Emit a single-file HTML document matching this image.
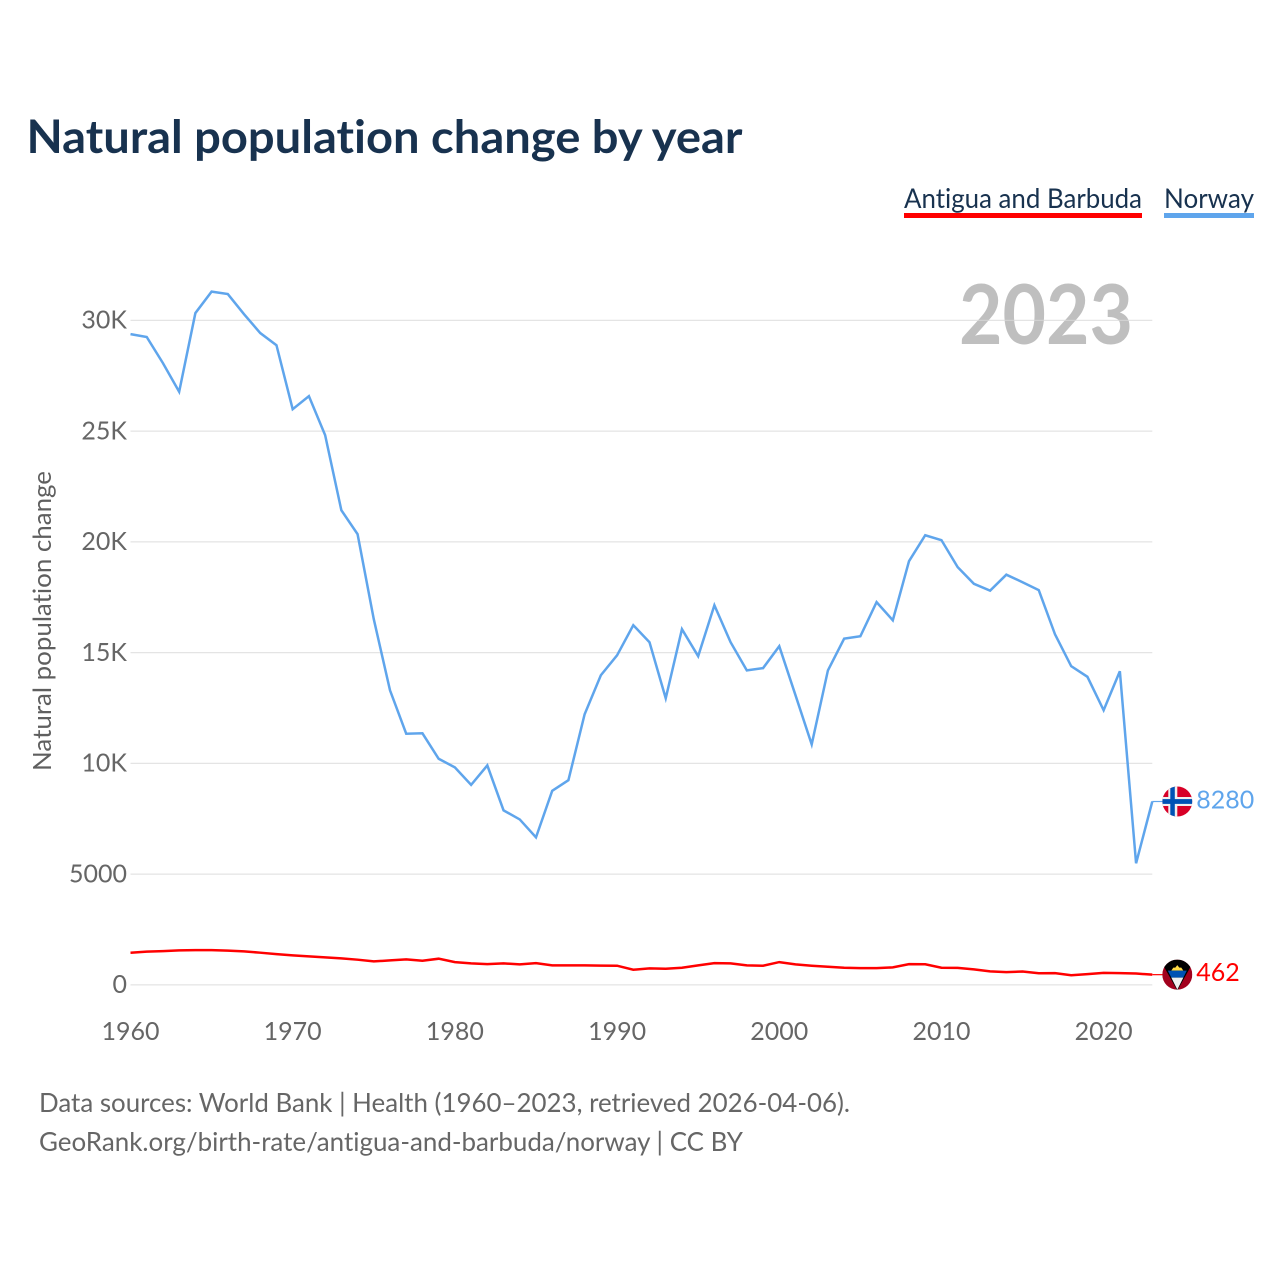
<!DOCTYPE html>
<html lang="en">
<head>
<meta charset="utf-8">
<title>Natural population change by year</title>
<style>
html,body{margin:0;padding:0;background:#fff;width:1280px;height:1280px;overflow:hidden}
svg{display:block}
text{font-family:"Lato","Liberation Sans",sans-serif;font-variant-ligatures:none;font-feature-settings:"liga" 0,"clig" 0,"dlig" 0}
</style>
</head>
<body>
<svg id="chart" xmlns="http://www.w3.org/2000/svg" width="1280" height="1280" viewBox="0 0 1280 1280">
  <defs>
    <clipPath id="flag-clip"><circle cx="0" cy="0" r="15"/></clipPath>
  </defs>
  <rect width="1280" height="1280" fill="#fff"/>
  <text x="26.5" y="153" font-size="46" font-weight="700" fill="#18324f" textLength="716" lengthAdjust="spacingAndGlyphs">Natural population change by year</text>
  <g>
    <text x="904" y="208" font-size="27" fill="#18324f" textLength="238" lengthAdjust="spacingAndGlyphs">Antigua and Barbuda</text>
    <rect x="904" y="213" width="238" height="5" fill="#ff0000"/>
  </g>
  <g>
    <text x="1164" y="208" font-size="27" fill="#18324f" textLength="90" lengthAdjust="spacingAndGlyphs">Norway</text>
    <rect x="1164" y="213" width="90" height="5" fill="#5fa5ec"/>
  </g>
  <text x="959" y="344" font-size="82" font-weight="700" fill="#bfbfbf" textLength="174" lengthAdjust="spacingAndGlyphs">2023</text>
  <g id="grid"></g>
  <g id="y-axis"></g>
  <g id="x-axis"></g>
  <text transform="translate(51,771) rotate(-90)" x="0" y="0" font-size="25" fill="#5f5f5f" textLength="300" lengthAdjust="spacingAndGlyphs">Natural population change</text>
  <g id="series"></g>

  <g id="norway-end">
    <line id="norway-connector" x1="0" x2="11" y1="0" y2="0" stroke="#5fa5ec" stroke-width="1.2"/>
    <g id="norway-flag" transform="translate(25,0)" clip-path="url(#flag-clip)">
      <rect x="-15" y="-15" width="30" height="30" fill="#d80027"/>
      <rect x="-9" y="-15" width="9" height="30" fill="#f0f0f0"/>
      <rect x="-15" y="-4.5" width="30" height="9" fill="#f0f0f0"/>
      <rect x="-7" y="-15" width="4.5" height="30" fill="#0052b4"/>
      <rect x="-15" y="-2.4" width="30" height="4.8" fill="#0052b4"/>
    </g>
    <text id="norway-value" x="44" y="7" font-size="25" fill="#5fa5ec"></text>
  </g>

  <g id="antigua-end">
    <line id="antigua-connector" x1="0" x2="11" y1="0" y2="0" stroke="#ff0000" stroke-width="1.2"/>
    <g id="antigua-flag" transform="translate(25,0)" clip-path="url(#flag-clip)">
      <rect x="-15" y="-15" width="30" height="30" fill="#a2001d"/>
      <polygon points="-15,-15 15,-15 15,-11 0,16 -15,-11" fill="#000"/>
      <polygon points="-6,-4 -4,-7 -2,-7 0,-9.5 2,-7 4,-7 6,-4" fill="#ffda44"/>
      <polygon points="-9.5,-4 9.5,-4 6,3 -6,3" fill="#0052b4"/>
      <polygon points="-6,3 6,3 0,15" fill="#f0f0f0"/>
    </g>
    <text id="antigua-value" x="44" y="6.5" font-size="25" fill="#ff0000"></text>
  </g>

  <text x="39" y="1112" font-size="26" fill="#666" textLength="811" lengthAdjust="spacingAndGlyphs">Data sources: World Bank | Health (1960–2023, retrieved 2026-04-06).</text>
  <text x="39" y="1151" font-size="26" fill="#666" textLength="704" lengthAdjust="spacingAndGlyphs">GeoRank.org/birth-rate/antigua-and-barbuda/norway | CC BY</text>
</svg>
<script>
const years = [1960,1961,1962,1963,1964,1965,1966,1967,1968,1969,1970,1971,1972,1973,1974,1975,1976,1977,1978,1979,1980,1981,1982,1983,1984,1985,1986,1987,1988,1989,1990,1991,1992,1993,1994,1995,1996,1997,1998,1999,2000,2001,2002,2003,2004,2005,2006,2007,2008,2009,2010,2011,2012,2013,2014,2015,2016,2017,2018,2019,2020,2021,2022,2023];
const norwayValues = [29380,29250,28070,26780,30330,31300,31190,30280,29430,28880,25990,26580,24820,21430,20350,16510,13300,11340,11360,10210,9820,9030,9910,7880,7470,6660,8760,9240,12220,13980,14880,16240,15470,12940,16060,14840,17140,15470,14200,14300,15290,13080,10860,14200,15630,15740,17280,16460,19130,20300,20080,18860,18110,17800,18520,18180,17820,15830,14390,13910,12400,14160,5490,8280];
const antiguaValues = [1454,1500,1527,1558,1572,1572,1549,1513,1454,1391,1332,1287,1242,1197,1138,1061,1106,1152,1093,1183,1030,971,939,971,926,980,881,881,881,872,867,686,745,731,776,881,985,971,881,867,1030,926,867,822,776,759,759,790,939,930,776,767,700,610,578,605,528,532,438,488,542,533,515,462];
const yTickValues = [0,5000,10000,15000,20000,25000,30000];
const yTickLabels = ["0","5000","10K","15K","20K","25K","30K"];
const xTickValues = [1960,1970,1980,1990,2000,2010,2020];

const SVG_NS = "http://www.w3.org/2000/svg";
const xScale = year => 130.5 + (year - 1960) * (1152.3 - 130.5) / 63;
const yScale = value => 984.9 - value * 0.02215;

const gridGroup = document.getElementById("grid");
const yAxisGroup = document.getElementById("y-axis");
const xAxisGroup = document.getElementById("x-axis");
const seriesGroup = document.getElementById("series");

yTickValues.forEach((value, i) => {
  const line = document.createElementNS(SVG_NS, "line");
  
  
  line.setAttribute("x1", xScale(1960));
  line.setAttribute("x2", xScale(2023));
  line.setAttribute("y1", yScale(value));
  line.setAttribute("y2", yScale(value));
  line.setAttribute("stroke", "#d9d9d9");
  line.setAttribute("stroke-opacity", "0.7");
  line.setAttribute("stroke-width", "1.3");
  gridGroup.appendChild(line);

  const label = document.createElementNS(SVG_NS, "text");
  
  
  label.setAttribute("x", 127);
  label.setAttribute("y", yScale(value) + 8.3);
  label.setAttribute("text-anchor", "end");
  label.setAttribute("font-size", "25");
  label.setAttribute("fill", "#666");
  label.textContent = yTickLabels[i];
  yAxisGroup.appendChild(label);
});

xTickValues.forEach(year => {
  const label = document.createElementNS(SVG_NS, "text");
  
  
  label.setAttribute("x", xScale(year));
  label.setAttribute("y", 1040);
  label.setAttribute("text-anchor", "middle");
  label.setAttribute("font-size", "25");
  label.setAttribute("fill", "#666");
  label.textContent = String(year);
  xAxisGroup.appendChild(label);
});

function linePath(values) {
  return values.map((v, i) => (i ? "L" : "M") + xScale(years[i]).toFixed(2) + " " + yScale(v).toFixed(2)).join(" ");
}

const norwayLine = document.createElementNS(SVG_NS, "path");


norwayLine.setAttribute("d", linePath(norwayValues));
norwayLine.setAttribute("fill", "none");
norwayLine.setAttribute("stroke", "#5fa5ec");
norwayLine.setAttribute("stroke-width", "2.5");
seriesGroup.appendChild(norwayLine);

const antiguaLine = document.createElementNS(SVG_NS, "path");


antiguaLine.setAttribute("d", linePath(antiguaValues));
antiguaLine.setAttribute("fill", "none");
antiguaLine.setAttribute("stroke", "#ff0000");
antiguaLine.setAttribute("stroke-width", "2.5");
seriesGroup.appendChild(antiguaLine);

const lastYear = years[years.length - 1];
const norwayLast = norwayValues[norwayValues.length - 1];
const antiguaLast = antiguaValues[antiguaValues.length - 1];
document.getElementById("norway-end").setAttribute("transform", "translate(" + xScale(lastYear) + "," + yScale(norwayLast) + ")");
document.getElementById("antigua-end").setAttribute("transform", "translate(" + xScale(lastYear) + "," + yScale(antiguaLast) + ")");
document.getElementById("norway-value").textContent = String(norwayLast);
document.getElementById("antigua-value").textContent = String(antiguaLast);
</script>
</body>
</html>
